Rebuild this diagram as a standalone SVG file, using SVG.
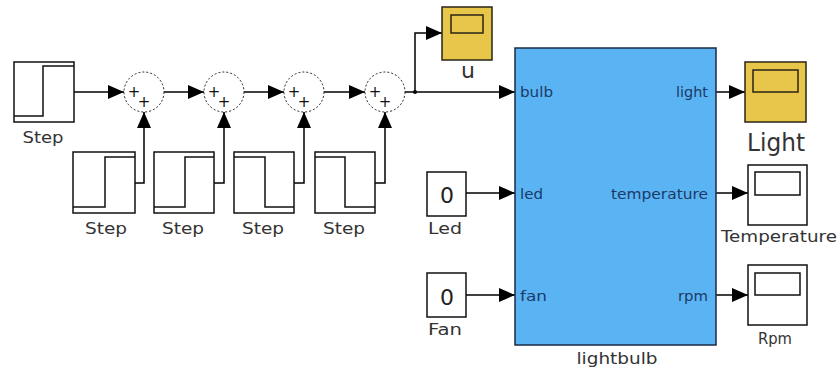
<svg xmlns="http://www.w3.org/2000/svg" width="840" height="371" viewBox="0 0 840 371">
<defs>
<marker id="ah" viewBox="0 0 16 16" refX="16" refY="8" markerWidth="16" markerHeight="16" markerUnits="userSpaceOnUse" orient="auto"><path d="M0,1 L16,8 L0,15 z" fill="#000"/></marker>
</defs>
<style>
.blk{fill:#fff;stroke:#111;stroke-width:1.5}
.wave{fill:none;stroke:#111;stroke-width:1.5}
.sum{fill:#fff;stroke:#222;stroke-width:1;stroke-dasharray:2 2}
.plus{font-family:"DejaVu Sans",sans-serif;font-size:15px;fill:#111;text-anchor:middle}
.lbl{font-family:"DejaVu Sans","Liberation Sans",sans-serif;font-size:16px;fill:#333;text-anchor:middle}
.port{font-family:"DejaVu Sans","Liberation Sans",sans-serif;font-size:14px;fill:#1b3a66}
.pr{text-anchor:end}
.wire{fill:none;stroke:#000;stroke-width:1.5}
.arr{marker-end:url(#ah)}
.scope{fill:#e8c64a;stroke:#2a2417;stroke-width:1.5}
.wscope{fill:#fff;stroke:#111;stroke-width:1.5}
.const{font-family:"DejaVu Sans","Liberation Sans",sans-serif;font-size:22px;fill:#222;text-anchor:middle}
</style>
<rect width="840" height="371" fill="#fff"/>

<g id="connectors">
<path class="wire arr" d="M74,92 H124"/>
<path class="wire arr" d="M164,92 H204"/>
<path class="wire arr" d="M244,92 H284"/>
<path class="wire arr" d="M324,92 H365"/>
<path class="wire arr" d="M405,92 H515"/>
<path class="wire arr" d="M415,92 V33 H442"/>
<circle cx="415" cy="92" r="2" fill="#000"/>
<path class="wire arr" d="M135,183 H144 V112"/>
<path class="wire arr" d="M214,183 H224 V112"/>
<path class="wire arr" d="M294,183 H304 V112"/>
<path class="wire arr" d="M375,183 H385 V112"/>
<path class="wire arr" d="M466,193 H515"/>
<path class="wire arr" d="M466,295 H515"/>
<path class="wire arr" d="M716,92 H745"/>
<path class="wire arr" d="M716,193 H748"/>
<path class="wire arr" d="M716,295 H748"/>
</g>

<g id="step0">
<rect class="blk" x="14" y="62" width="60" height="60"/>
<polyline class="wave" points="14,116 43,116 43,66 74,66"/>
<text class="lbl" x="43" y="143" textLength="41" lengthAdjust="spacingAndGlyphs">Step</text>
</g>
<g id="step1">
<rect class="blk" x="73" y="152" width="62" height="61"/>
<polyline class="wave" points="73,207 105,207 105,157 135,157"/>
<text class="lbl" x="106" y="234" textLength="42" lengthAdjust="spacingAndGlyphs">Step</text>
</g>
<g id="step2">
<rect class="blk" x="154" y="152" width="60" height="61"/>
<polyline class="wave" points="154,207 185,207 185,157 214,157"/>
<text class="lbl" x="183" y="234" textLength="42" lengthAdjust="spacingAndGlyphs">Step</text>
</g>
<g id="step3">
<rect class="blk" x="234" y="152" width="60" height="61"/>
<polyline class="wave" points="234,157 265,157 265,207 294,207"/>
<text class="lbl" x="263" y="234" textLength="42" lengthAdjust="spacingAndGlyphs">Step</text>
</g>
<g id="step4">
<rect class="blk" x="315" y="152" width="60" height="61"/>
<polyline class="wave" points="315,157 345,157 345,207 375,207"/>
<text class="lbl" x="344" y="234" textLength="42" lengthAdjust="spacingAndGlyphs">Step</text>
</g>

<g id="sum1"><circle class="sum" cx="144" cy="92" r="20"/><text class="plus" x="134" y="97">+</text><text class="plus" x="144" y="107">+</text></g>
<g id="sum2"><circle class="sum" cx="224" cy="92" r="20"/><text class="plus" x="214" y="97">+</text><text class="plus" x="224" y="107">+</text></g>
<g id="sum3"><circle class="sum" cx="304" cy="92" r="20"/><text class="plus" x="294" y="97">+</text><text class="plus" x="304" y="107">+</text></g>
<g id="sum4"><circle class="sum" cx="385" cy="92" r="20"/><text class="plus" x="375" y="97">+</text><text class="plus" x="385" y="107">+</text></g>

<g id="scope_u">
<rect class="scope" x="442" y="7" width="50" height="53"/>
<rect class="scope" x="451" y="15" width="32" height="18"/>
<text class="lbl" x="468" y="78" style="font-size:22px">u</text>
</g>

<g id="lightbulb">
<rect x="515" y="48" width="201" height="297" fill="#5ab4f4" stroke="#1a2a44" stroke-width="1.5"/>
<text class="port" x="520" y="97" textLength="33" lengthAdjust="spacingAndGlyphs">bulb</text>
<text class="port pr" x="708" y="97" textLength="32" lengthAdjust="spacingAndGlyphs">light</text>
<text class="port" x="520" y="199" textLength="23" lengthAdjust="spacingAndGlyphs">led</text>
<text class="port pr" x="708" y="199" textLength="97" lengthAdjust="spacingAndGlyphs">temperature</text>
<text class="port" x="520" y="301" textLength="27" lengthAdjust="spacingAndGlyphs">fan</text>
<text class="port pr" x="708" y="301" textLength="30" lengthAdjust="spacingAndGlyphs">rpm</text>
<text class="lbl" x="617" y="364" textLength="81" lengthAdjust="spacingAndGlyphs">lightbulb</text>
</g>

<g id="led">
<rect class="blk" x="427" y="172" width="39" height="44"/>
<text class="const" x="447" y="203">0</text>
<text class="lbl" x="445" y="234" textLength="34" lengthAdjust="spacingAndGlyphs">Led</text>
</g>
<g id="fan">
<rect class="blk" x="427" y="273" width="39" height="44"/>
<text class="const" x="447" y="305">0</text>
<text class="lbl" x="445" y="335" textLength="34" lengthAdjust="spacingAndGlyphs">Fan</text>
</g>

<g id="scope_light">
<rect class="scope" x="745" y="62" width="61" height="60"/>
<rect class="scope" x="753" y="70" width="45" height="22"/>
<text class="lbl" x="776" y="151" style="font-size:24px" textLength="58" lengthAdjust="spacingAndGlyphs">Light</text>
</g>
<g id="scope_temperature">
<rect class="wscope" x="748" y="165" width="59" height="60"/>
<rect class="wscope" x="755" y="172" width="45" height="23"/>
<text class="lbl" x="779" y="242" textLength="116" lengthAdjust="spacingAndGlyphs">Temperature</text>
</g>
<g id="scope_rpm">
<rect class="wscope" x="748" y="265" width="59" height="60"/>
<rect class="wscope" x="755" y="273" width="45" height="22"/>
<text class="lbl" x="775" y="344" textLength="34" lengthAdjust="spacingAndGlyphs">Rpm</text>
</g>
</svg>
